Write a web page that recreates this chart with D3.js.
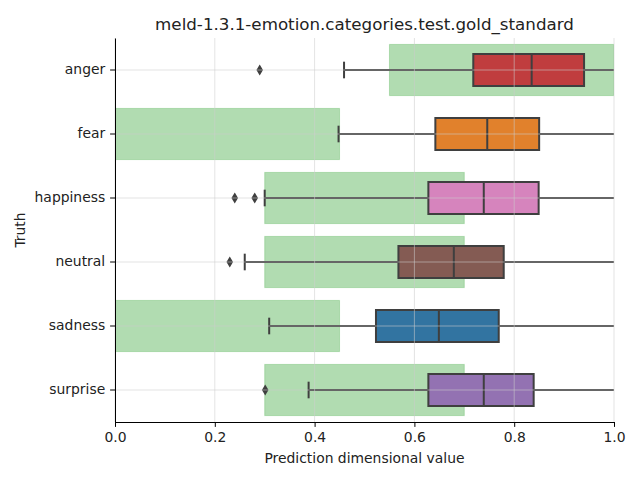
<!DOCTYPE html>
<html>
<head>
<meta charset="utf-8">
<script src="https://cdn.jsdelivr.net/npm/d3@7"></script>
<style>
  html, body { margin: 0; padding: 0; background: #fff; }
  svg { display: block; font-family: "DejaVu Sans", sans-serif; }
</style>
</head>
<body>
<svg id="chart" width="640" height="480"></svg>
<script>
const title = "meld-1.3.1-emotion.categories.test.gold_standard";
const xLabel = "Prediction dimensional value";
const yLabel = "Truth";
const categories = ["anger", "fear", "happiness", "neutral", "sadness", "surprise"];
const q1 = [0.718, 0.642, 0.628, 0.568, 0.523, 0.628];
const median = [0.835, 0.746, 0.739, 0.679, 0.649, 0.739];
const q3 = [0.940, 0.850, 0.849, 0.779, 0.769, 0.839];
const whiskerLow = [0.459, 0.448, 0.300, 0.260, 0.309, 0.388];
const whiskerHigh = [1.0, 1.0, 1.0, 1.0, 1.0, 1.0];
const outliers = [[0.290], [], [0.240, 0.280], [0.230], [], [0.301]];
const goldLow = [0.55, 0.0, 0.3, 0.3, 0.0, 0.3];
const goldHigh = [1.0, 0.45, 0.7, 0.7, 0.45, 0.7];
const boxColors = ["#c03d3e", "#e1812c", "#d684bd", "#845b53", "#3274a1", "#9372b2"];
const xTicks = [0, 0.2, 0.4, 0.6, 0.8, 1.0];

const svg = d3.select("#chart");
const mLeft = 115, mRight = 614, mTop = 38, mBottom = 422;

const x = d3.scaleLinear().domain([0, 1]).range([mLeft, mRight]);
const y = d3.scaleBand().domain(categories).range([mTop, mBottom]).padding(0);
const bw = y.bandwidth();
const cy = c => y(c) + bw / 2;

svg.append("defs").append("clipPath").attr("id", "clip")
  .append("rect").attr("x", mLeft).attr("y", mTop).attr("width", mRight - mLeft).attr("height", mBottom - mTop);

const plot = svg.append("g").attr("clip-path", "url(#clip)");

// gold standard ranges
plot.selectAll("rect.gold").data(categories).join("rect")
  .attr("class", "gold")
  .attr("x", (c, i) => x(goldLow[i]))
  .attr("width", (c, i) => x(goldHigh[i]) - x(goldLow[i]))
  .attr("y", c => cy(c) - bw * 0.4)
  .attr("height", bw * 0.8)
  .attr("fill", "#2ca02c").attr("fill-opacity", 0.37)
  .attr("stroke", "#2ca02c").attr("stroke-opacity", 0.25).attr("stroke-width", 1);

const stroke = "#3f3f3f";
const boxG = plot.selectAll("g.box").data(categories).join("g").attr("class", "box");

// whiskers
boxG.append("line")
  .attr("x1", (c, i) => x(whiskerLow[i])).attr("x2", (c, i) => x(q1[i]))
  .attr("y1", c => cy(c)).attr("y2", c => cy(c))
  .attr("stroke", stroke).attr("stroke-width", 2);
boxG.append("line")
  .attr("x1", (c, i) => x(q3[i])).attr("x2", (c, i) => x(whiskerHigh[i]))
  .attr("y1", c => cy(c)).attr("y2", c => cy(c))
  .attr("stroke", stroke).attr("stroke-width", 2);
// caps
boxG.append("line")
  .attr("x1", (c, i) => x(whiskerLow[i])).attr("x2", (c, i) => x(whiskerLow[i]))
  .attr("y1", c => cy(c) - bw * 0.13).attr("y2", c => cy(c) + bw * 0.13)
  .attr("stroke", stroke).attr("stroke-width", 2);
// box
boxG.append("rect")
  .attr("x", (c, i) => x(q1[i]))
  .attr("width", (c, i) => x(q3[i]) - x(q1[i]))
  .attr("y", c => cy(c) - bw * 0.25)
  .attr("height", bw * 0.5)
  .attr("fill", (c, i) => boxColors[i])
  .attr("stroke", stroke).attr("stroke-width", 2);
// median
boxG.append("line")
  .attr("x1", (c, i) => x(median[i])).attr("x2", (c, i) => x(median[i]))
  .attr("y1", c => cy(c) - bw * 0.25).attr("y2", c => cy(c) + bw * 0.25)
  .attr("stroke", stroke).attr("stroke-width", 2);
// outliers
const fliers = [];
categories.forEach((c, i) => outliers[i].forEach(v => fliers.push({c, v})));
plot.selectAll("path.flier").data(fliers).join("path")
  .attr("class", "flier")
  .attr("transform", d => `translate(${x(d.v)},${cy(d.c)})`)
  .attr("d", "M0,-5.5L3.3,0L0,5.5L-3.3,0Z")
  .attr("fill", stroke);

// grid on top
const grid = svg.append("g");
grid.selectAll("line.gx").data(xTicks).join("line")
  .attr("x1", d => x(d)).attr("x2", d => x(d))
  .attr("y1", mTop).attr("y2", mBottom)
  .attr("stroke", "#cccccc").attr("stroke-opacity", 0.7).attr("stroke-width", 0.8);
grid.selectAll("line.gy").data(categories).join("line")
  .attr("x1", mLeft).attr("x2", mRight)
  .attr("y1", c => cy(c)).attr("y2", c => cy(c))
  .attr("stroke", "#cccccc").attr("stroke-opacity", 0.7).attr("stroke-width", 0.8);

// axes
const xAxis = svg.append("g").attr("transform", `translate(0,${mBottom})`)
  .call(d3.axisBottom(x).tickValues(xTicks).tickFormat(d3.format(".1f")).tickSizeOuter(0).tickSizeInner(4.9).tickPadding(4.9));
const yAxis = svg.append("g").attr("transform", `translate(${mLeft},0)`)
  .call(d3.axisLeft(y).tickSizeOuter(0).tickSizeInner(4.9).tickPadding(4.9));
[xAxis, yAxis].forEach(a => {
  a.attr("font-size", null).attr("font-family", null);
  a.selectAll("path.domain").attr("stroke", "#000").attr("stroke-width", 1);
  a.selectAll(".tick line").attr("stroke", "#000").attr("stroke-width", 1);
  a.selectAll(".tick text").attr("fill", "#222").style("font-size", "13.9px").style("font-family", "DejaVu Sans");
});

svg.append("text").attr("x", (mLeft + mRight) / 2).attr("y", 463)
  .attr("text-anchor", "middle").style("font-size", "13.9px").attr("fill", "#222").text(xLabel);
svg.append("text").attr("transform", `translate(25,${(mTop + mBottom) / 2}) rotate(-90)`)
  .attr("text-anchor", "middle").style("font-size", "13.9px").attr("fill", "#222").text(yLabel);
svg.append("text").attr("x", (mLeft + mRight) / 2).attr("y", 29.5)
  .attr("text-anchor", "middle").style("font-size", "16.7px").attr("fill", "#222").text(title);
</script>
</body>
</html>
